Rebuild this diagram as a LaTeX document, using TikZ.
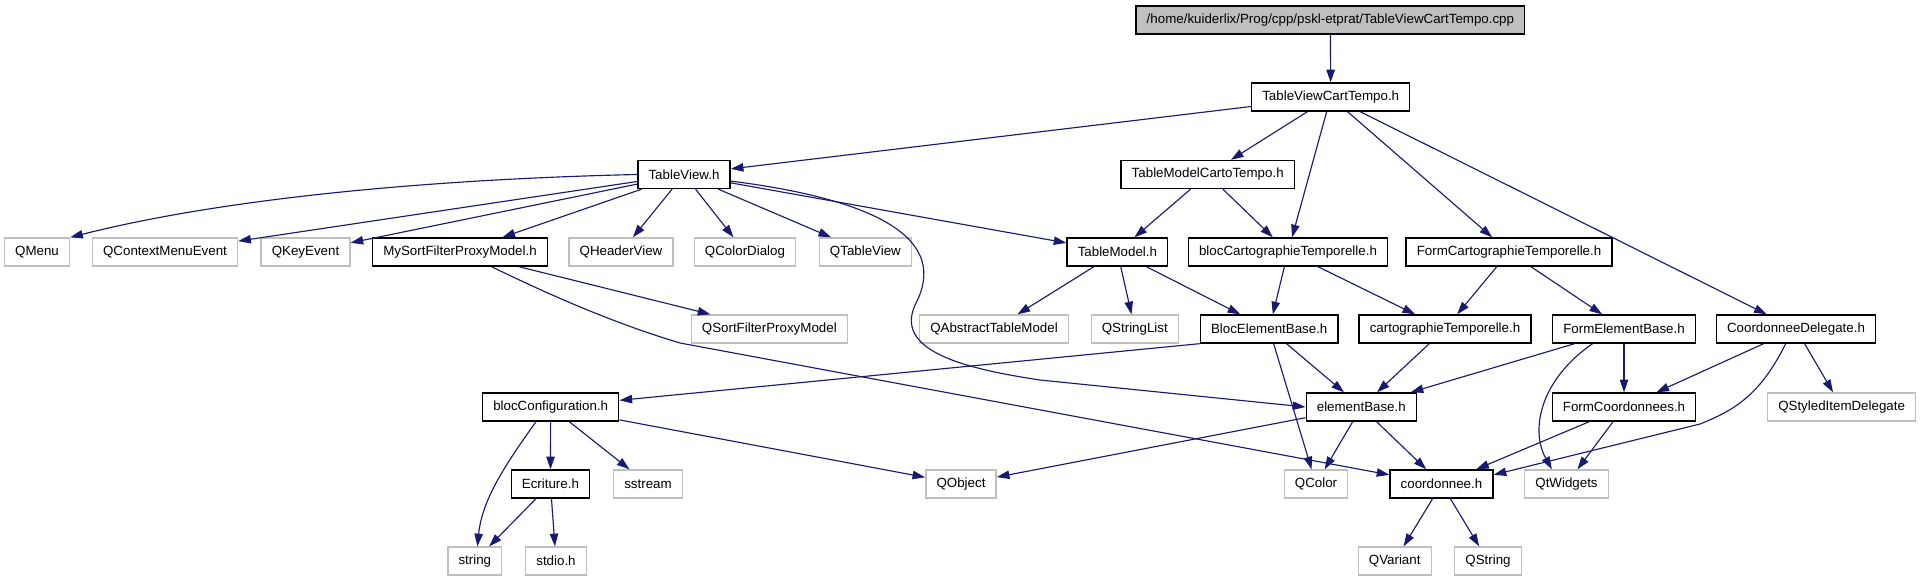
\documentclass[tikz,border=0pt]{standalone}
\usepackage{fontspec}
\setmainfont{Liberation Sans}
\usepackage{tikz}
\usetikzlibrary{arrows.meta,positioning,calc}
\definecolor{doxEdge}{HTML}{191970}
\definecolor{doxGrey}{HTML}{BFBFBF}
\definecolor{doxRoot}{HTML}{BFBFBF}

\begin{document}
\begin{tikzpicture}[x=0.75pt,y=-0.75pt,font=\fontsize{10}{12}\selectfont,
    hdr/.style={draw=black,fill=white,line width=1pt,minimum height=21pt,
                inner xsep=8pt,inner ysep=2pt},
    sys/.style={draw=doxGrey,fill=white,line width=1pt,minimum height=21pt,
                inner xsep=8pt,inner ysep=2pt},
    src/.style={hdr,fill=doxRoot},
    arr/.style={-{Triangle[length=9.5pt,width=6.3pt]},doxEdge,line width=0.85pt}]

  \useasboundingbox (0,0) rectangle (1920,581);

  \node[src] (root) at (1330.4,20) {/home/kuiderlix/Prog/cpp/pskl-etprat/TableViewCartTempo.cpp};
  \node[hdr] (tvct) at (1330.7,97) {TableViewCartTempo.h};

  \node[hdr] (tableview) at (684,174.5) {TableView.h};
  \node[hdr] (tmct) at (1207.7,174.5) {TableModelCartoTempo.h};

  \node[sys] (qmenu) at (37,252) {QMenu};
  \node[sys] (qctxmenu) at (165,252) {QContextMenuEvent};
  \node[sys] (qkeyevent) at (305.5,252) {QKeyEvent};
  \node[hdr] (mysort) at (460,252) {MySortFilterProxyModel.h};
  \node[sys] (qheaderview) at (621,252) {QHeaderView};
  \node[sys] (qcolordialog) at (745,252) {QColorDialog};
  \node[sys] (qtableview) at (865.4,252) {QTableView};
  \node[hdr] (tablemodel) at (1117.4,252) {TableModel.h};
  \node[hdr] (bloccarto) at (1288,252) {blocCartographieTemporelle.h};
  \node[hdr] (formcarto) at (1509,252) {FormCartographieTemporelle.h};

  \node[sys] (qsortfilter) at (769.3,329) {QSortFilterProxyModel};
  \node[sys] (qabstract) at (994,329) {QAbstractTableModel};
  \node[sys] (qstringlist) at (1134.8,329) {QStringList};
  \node[hdr] (blocelem) at (1269.2,329) {BlocElementBase.h};
  \node[hdr] (carto) at (1445,329) {cartographieTemporelle.h};
  \node[hdr] (formelem) at (1624,329) {FormElementBase.h};
  \node[hdr] (coorddeleg) at (1796,329) {CoordonneeDelegate.h};

  \node[hdr] (blocconf) at (550.7,407) {blocConfiguration.h};
  \node[hdr] (elembase) at (1361.3,407) {elementBase.h};
  \node[hdr] (formcoord) at (1624,407) {FormCoordonnees.h};
  \node[sys] (qstyled) at (1841.6,407) {QStyledItemDelegate};

  \node[hdr] (ecriture) at (550.4,484) {Ecriture.h};
  \node[sys] (sstream) at (648,484) {sstream};
  \node[sys] (qobject) at (961,484) {QObject};
  \node[sys] (qcolor) at (1316,484) {QColor};
  \node[hdr] (coordonnee) at (1441.5,484) {coordonnee.h};
  \node[sys] (qtwidgets) at (1566.5,484) {QtWidgets};

  \node[sys] (string) at (474.8,561) {string};
  \node[sys] (stdio) at (556,561) {stdio.h};
  \node[sys] (qvariant) at (1394.7,561) {QVariant};
  \node[sys] (qstring) at (1488,561) {QString};

  \draw[arr] (root) -- (tvct);
  \draw[arr] (tvct) -- (tableview);
  \draw[arr] (tvct) -- (tmct);
  \draw[arr] (tvct) -- (bloccarto);
  \draw[arr] (tvct) -- (formcarto);
  \draw[arr] (tvct) -- (coorddeleg);

  \draw[arr] (tableview.west) .. controls (480,178) and (250,192) .. (qmenu.north east);
  \draw[arr] (tableview) -- (qctxmenu);
  \draw[arr] (tableview) -- (qkeyevent);
  \draw[arr] (tableview) -- (mysort);
  \draw[arr] (tableview) -- (qheaderview);
  \draw[arr] (tableview) -- (qcolordialog);
  \draw[arr] (tableview) -- (qtableview);
  \draw[arr] (tableview) -- (tablemodel);
  \draw[arr] (tableview.-8) .. controls (880,200) and (950,240) .. (915,305)
    .. controls (895,350) and (960,368) .. (1040,380) -- (elembase.west);

  \draw[arr] (mysort) -- (qsortfilter);
  \draw[arr] (mysort.-25) .. controls (560,300) and (620,325) .. (680,343) -- (coordonnee.170);

  \draw[arr] (tmct) -- (tablemodel);
  \draw[arr] (tmct) -- (bloccarto);
  \draw[arr] (tablemodel) -- (qabstract);
  \draw[arr] (tablemodel) -- (qstringlist);
  \draw[arr] (tablemodel) -- (blocelem);
  \draw[arr] (bloccarto) -- (blocelem);
  \draw[arr] (bloccarto) -- (carto);
  \draw[arr] (formcarto) -- (carto);
  \draw[arr] (formcarto) -- (formelem);

  \draw[arr] (blocelem.south west) -- (blocconf);
  \draw[arr] (blocelem) -- (elembase);
  \draw[arr] (blocelem) -- (qcolor);
  \draw[arr] (carto) -- (elembase);
  \draw[arr] (formelem) -- (elembase);
  \draw[arr] (formelem) -- (formcoord);
  \draw[arr] (formelem.-155) .. controls (1540,380) and (1530,430) .. (qtwidgets.135);
  \draw[arr] (coorddeleg) -- (formcoord);
  \draw[arr] (coorddeleg) -- (qstyled);
  \draw[arr] (coorddeleg.-125) .. controls (1760,395) and (1735,410) .. (1700,424) -- (coordonnee.10);

  \draw[arr] (blocconf.-135) .. controls (505,465) and (482,500) .. (string.80);
  \draw[arr] (blocconf) -- (ecriture);
  \draw[arr] (blocconf) -- (sstream);
  \draw[arr] (blocconf) -- (qobject);
  \draw[arr] (ecriture) -- (string);
  \draw[arr] (ecriture) -- (stdio);

  \draw[arr] (elembase) -- (qobject);
  \draw[arr] (elembase) -- (qcolor);
  \draw[arr] (elembase) -- (coordonnee);
  \draw[arr] (formcoord) -- (coordonnee);
  \draw[arr] (formcoord) -- (qtwidgets);
  \draw[arr] (coordonnee) -- (qvariant);
  \draw[arr] (coordonnee) -- (qstring);
\end{tikzpicture}
\end{document}
